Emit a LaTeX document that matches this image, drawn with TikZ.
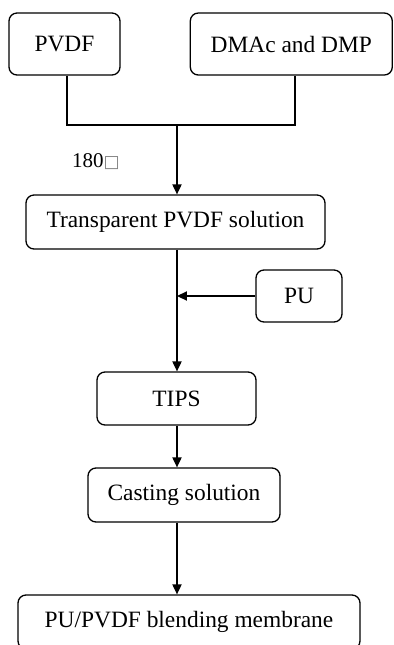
\documentclass[tikz,border=0pt]{standalone}
\usepackage{fontspec}
\setmainfont{Liberation Serif}
\newfontfamily\symfont{DejaVu Sans}
\usepackage{tikz}
\usetikzlibrary{arrows.meta}

\begin{document}
\begin{tikzpicture}[x=0.5pt,y=-0.5pt]
  \tikzstyle{box}=[draw,rectangle,rounded corners=4pt,inner sep=0pt,line width=0.65pt,font=\fontsize{11.7}{13}\selectfont]
  \tikzstyle{arr}=[-{Triangle[length=5pt,width=4.6pt]},line width=0.65pt]
  \useasboundingbox (0,0) rectangle (393,645);
  \node[box,minimum width=55.5pt,minimum height=31pt] (pvdf) at (64.5,44) {PVDF};
  \node[box,minimum width=101pt,minimum height=31pt] (dmac) at (291.3,44) {DMAc and DMP};
  \coordinate (join) at (177,125);
  \node[font=\fontsize{10.5}{12}\selectfont] (temp) at (96,162) {180{\color{gray}\symfont\fontsize{8.5}{10}\selectfont □}};
  \node[box,minimum width=149.5pt,minimum height=27pt] (trans) at (175.5,222) {Transparent PVDF solution};
  \node[box,minimum width=43pt,minimum height=26pt] (pu) at (299,296) {PU};
  \node[box,minimum width=79.5pt,minimum height=26.5pt] (tips) at (176.5,398.5) {TIPS};
  \node[box,minimum width=96pt,minimum height=27pt] (cast) at (184,495) {Casting solution};
  \node[box,minimum width=171pt,minimum height=27pt] (blend) at (189,622) {PU/PVDF blending membrane};
  % mixing
  \draw[line width=0.65pt] ([xshift=1.2pt]pvdf.south) |- (join) -| ([xshift=1.8pt]dmac.south);
  \draw[arr] (join) -- (trans.north -| join);
  \draw[arr] (trans.south -| join) -- (tips.north -| join);
  \draw[arr] (pu.west) -- (pu.west -| join);
  \draw[arr] (tips.south -| join) -- (cast.north -| join);
  \draw[arr] (cast.south -| join) -- (blend.north -| join);
\end{tikzpicture}
\end{document}
